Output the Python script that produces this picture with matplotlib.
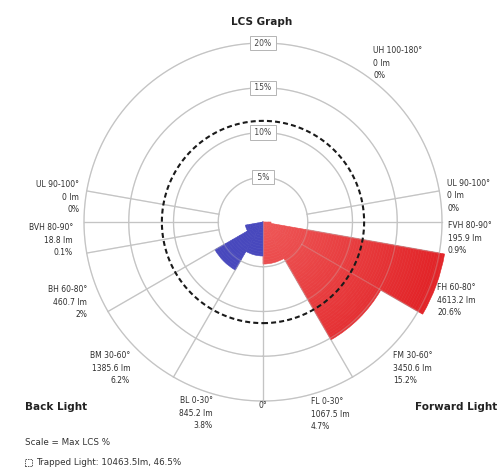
import numpy as np
import matplotlib
matplotlib.use("Agg")
import matplotlib.pyplot as plt
from matplotlib.patches import Rectangle

# zone data (angles measured from nadir)
zone_lo = [0, 30, 60, 80, 90, 100]
zone_hi = [30, 60, 80, 90, 100, 180]
fwd_names = ["FL", "FM", "FH", "FVH", "UL", "UH"]
fwd_lm = [1067.5, 3450.6, 4613.2, 195.9, 0, 0]
fwd_pct = [4.7, 15.2, 20.6, 0.9, 0, 0]
back_names = ["BL", "BM", "BH", "BVH", "UL", "UH"]
back_lm = [845.2, 1385.6, 460.7, 18.8, 0, 0]
back_pct = [3.8, 6.2, 2.0, 0.1, 0, 0]

rings = [5, 10, 15, 20]
max_lcs = 11.3          # dashed circle
trapped_lm = 10463.5
trapped_pct = 46.5

W, H = 499, 469
cx, cy = 263, 222       # centre in pixels
px_per = 179 / 20       # pixels per percent
rmax = 22

def fx(x):
    return x / W

def fy(y):
    return 1 - y / H

fig = plt.figure(figsize=(W / 100, H / 100), dpi=100)
R = rmax * px_per
ax = fig.add_axes([fx(cx - R), 1 - (cy + R) / H, 2 * R / W, 2 * R / H],
                  projection="polar")
ax.set_theta_zero_location("S")
ax.set_theta_direction(1)
ax.set_ylim(0, rmax)
ax.set_axis_off()

grid_c = "#c4c4c4"
th = np.linspace(0, 2 * np.pi, 721)


def grid(color, alpha, z):
    for r in rings:
        ax.plot(th, np.full_like(th, r), color=color, lw=0.9, alpha=alpha, zorder=z)
    for a in [30, 60, 80, 90, 100]:
        for s in (1, -1):
            t = np.radians(a * s)
            ax.plot([t, t], [5, 20], color=color, lw=0.9, alpha=alpha, zorder=z)
    ax.plot([0, 0], [0, 20], color=grid_c, lw=0.9, alpha=alpha, zorder=z)


grid(grid_c, 1.0, 1)


def red_at(r):
    f = min(r / 20, 1)
    c0 = np.array([238, 88, 88]) / 255
    c1 = np.array([226, 36, 40]) / 255
    return c0 + (c1 - c0) * f


def draw_zone(lo, hi, r, side, colfn):
    if r <= 0:
        return
    t = np.radians((lo + hi) / 2) * side
    w = np.radians(hi - lo)
    edges = list(np.arange(0, r, 0.3)) + [r]
    for r0, r1 in zip(edges[:-1], edges[1:]):
        c = colfn((r0 + r1) / 2)
        ax.bar(t, r1 - r0, width=w, bottom=r0, color=c, edgecolor=c,
               lw=0.4, zorder=2)


for lo, hi, p in zip(zone_lo, zone_hi, fwd_pct):
    draw_zone(lo, hi, p, 1, red_at)
for lo, hi, p in zip(zone_lo, zone_hi, back_pct):
    draw_zone(lo, hi, p, -1, lambda r: "#4848bd")

# faint grid showing through the wedges
grid(grid_c, 0.3, 3)

ax.plot(th, np.full_like(th, max_lcs), color="#1a1a1a", lw=1.5,
        ls=(0, (2.4, 1.5)), zorder=4)

for r in rings:
    ax.text(np.pi, r, f" {r}% ", ha="center", va="center", fontsize=5.5,
            color="#444444", zorder=5,
            bbox=dict(boxstyle="square,pad=0.35", fc="white", ec="#b4b4b4", lw=0.7))

# zone labels
def zone_text(name, lo, hi, lm, p):
    return f"{name} {lo}-{hi}°\n{lm:g} lm\n{p:g}%"

fwd_pos = [(311, 414), (393, 368), (437, 300), (448, 238), (447, 196), (373, 63)]
back_pos = [(213, 413), (130, 368), (87, 302), (73, 240), (79, 197), None]

for i in range(6):
    x, y = fwd_pos[i]
    fig.text(fx(x), fy(y), zone_text(fwd_names[i], zone_lo[i], zone_hi[i], fwd_lm[i], fwd_pct[i]),
             ha="left", va="center", fontsize=5.5, linespacing=1.55, color="#2e2e2e")
    if back_pos[i] is not None:
        x, y = back_pos[i]
        fig.text(fx(x), fy(y), zone_text(back_names[i], zone_lo[i], zone_hi[i], back_lm[i], back_pct[i]),
                 ha="right", va="center", fontsize=5.5, linespacing=1.55,
                 color="#2e2e2e", multialignment="right")

fig.text(fx(263), fy(406), "0°", ha="center", va="center", fontsize=5.5, color="#333333")
fig.text(fx(262), fy(22), "LCS Graph", ha="center", va="center", fontsize=7.5,
         fontweight="bold", color="#222222")
fig.text(fx(25), fy(407), "Back Light", ha="left", va="center", fontsize=7.5,
         fontweight="bold", color="#222222")
fig.text(fx(415), fy(407), "Forward Light", ha="left", va="center", fontsize=7.5,
         fontweight="bold", color="#222222")
fig.text(fx(25), fy(442), "Scale = Max LCS %", ha="left", va="center",
         fontsize=6.3, color="#333333")
fig.text(fx(36), fy(462), f"Trapped Light: {trapped_lm:g}lm, {trapped_pct:g}%",
         ha="left", va="center", fontsize=6.3, color="#333333")
fig.patches.append(Rectangle((fx(25), fy(466)), 7 / W, 7 / H, transform=fig.transFigure,
                             fill=False, ec="#555555", lw=0.7, ls=(0, (1.5, 1))))

fig.savefig("out.png", dpi=100, facecolor="white")
